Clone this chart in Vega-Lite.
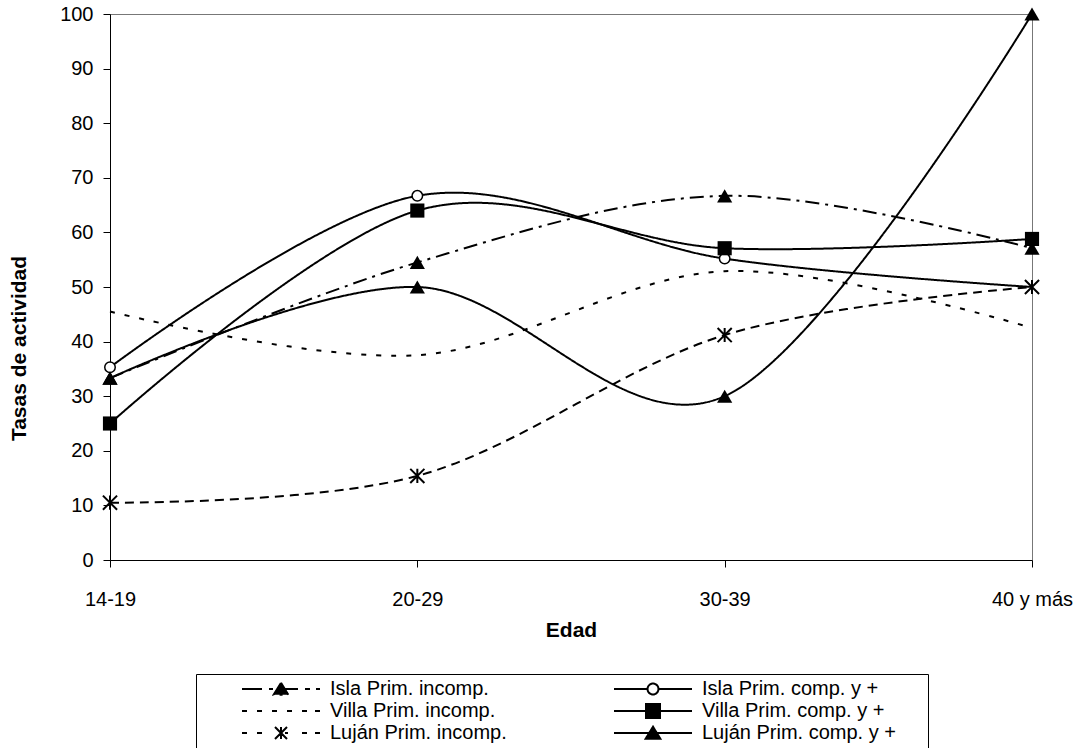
{
  "$schema": "https://vega.github.io/schema/vega-lite/v6.json",
  "width": 922,
  "height": 546,
  "autosize": {"type": "none"},
  "padding": {"left": 110, "top": 14, "right": 50, "bottom": 188},
  "background": "#ffffff",
  "config": {
    "font": "Liberation Sans",
    "view": {"stroke": "#777777", "strokeWidth": 1},
    "axis": {
      "domainColor": "#000000",
      "domainWidth": 1,
      "tickColor": "#000000",
      "tickWidth": 1,
      "tickSize": 7,
      "labelColor": "#000000",
      "labelFont": "Liberation Sans",
      "labelFontSize": 20,
      "titleColor": "#000000",
      "titleFont": "Liberation Sans",
      "titleFontSize": 21,
      "titleFontWeight": "bold",
      "grid": false
    },
    "legend": {
      "labelFont": "Liberation Sans",
      "labelFontSize": 20,
      "labelColor": "#000000"
    }
  },
  "data": {
    "values": [
      {"serie": "Isla Prim. incomp.", "edad": "14-19", "tasa": 33.3},
      {"serie": "Isla Prim. incomp.", "edad": "20-29", "tasa": 54.5},
      {"serie": "Isla Prim. incomp.", "edad": "30-39", "tasa": 66.7},
      {"serie": "Isla Prim. incomp.", "edad": "40 y más", "tasa": 57.1},
      {"serie": "Isla Prim. comp. y +", "edad": "14-19", "tasa": 35.3},
      {"serie": "Isla Prim. comp. y +", "edad": "20-29", "tasa": 66.7},
      {"serie": "Isla Prim. comp. y +", "edad": "30-39", "tasa": 55.2},
      {"serie": "Isla Prim. comp. y +", "edad": "40 y más", "tasa": 50.0},
      {"serie": "Villa Prim. incomp.", "edad": "14-19", "tasa": 45.5},
      {"serie": "Villa Prim. incomp.", "edad": "20-29", "tasa": 37.5},
      {"serie": "Villa Prim. incomp.", "edad": "30-39", "tasa": 52.9},
      {"serie": "Villa Prim. incomp.", "edad": "40 y más", "tasa": 42.5},
      {"serie": "Villa Prim. comp. y +", "edad": "14-19", "tasa": 25.0},
      {"serie": "Villa Prim. comp. y +", "edad": "20-29", "tasa": 64.0},
      {"serie": "Villa Prim. comp. y +", "edad": "30-39", "tasa": 57.1},
      {"serie": "Villa Prim. comp. y +", "edad": "40 y más", "tasa": 58.8},
      {"serie": "Luján Prim. incomp.", "edad": "14-19", "tasa": 10.5},
      {"serie": "Luján Prim. incomp.", "edad": "20-29", "tasa": 15.4},
      {"serie": "Luján Prim. incomp.", "edad": "30-39", "tasa": 41.2},
      {"serie": "Luján Prim. incomp.", "edad": "40 y más", "tasa": 50.0},
      {"serie": "Luján Prim. comp. y +", "edad": "14-19", "tasa": 33.3},
      {"serie": "Luján Prim. comp. y +", "edad": "20-29", "tasa": 50.0},
      {"serie": "Luján Prim. comp. y +", "edad": "30-39", "tasa": 30.0},
      {"serie": "Luján Prim. comp. y +", "edad": "40 y más", "tasa": 100.0}
    ]
  },
  "encoding": {
    "x": {
      "field": "edad",
      "type": "ordinal",
      "sort": ["14-19", "20-29", "30-39", "40 y más"],
      "scale": {"type": "point", "padding": 0},
      "axis": {
        "title": "Edad",
        "labelAngle": 0,
        "labelPadding": 22,
        "titleX": 461,
        "titleY": 70,
        "titleAlign": "center",
        "titleBaseline": "middle"
      }
    },
    "y": {
      "field": "tasa",
      "type": "quantitative",
      "scale": {"domain": [0, 100], "nice": false, "zero": true},
      "axis": {
        "title": "Tasas de actividad",
        "values": [0, 10, 20, 30, 40, 50, 60, 70, 80, 90, 100],
        "labelPadding": 10,
        "titleAngle": 270,
        "titleX": -91,
        "titleY": 334,
        "titleAlign": "center",
        "titleBaseline": "middle"
      }
    }
  },
  "layer": [
    {
      "mark": {"type": "line", "interpolate": "cardinal", "color": "#000000", "strokeWidth": 2, "strokeCap": "butt", "clip": false},
      "encoding": {
        "strokeDash": {
          "field": "serie",
          "type": "nominal",
          "scale": {
            "domain": ["Isla Prim. incomp.", "Villa Prim. incomp.", "Luján Prim. incomp.", "Isla Prim. comp. y +", "Villa Prim. comp. y +", "Luján Prim. comp. y +"],
            "range": [[14, 6, 3, 6], [5, 10], [9, 6], [1, 0], [1, 0], [1, 0]]
          },
          "legend": {
            "title": null,
            "orient": "none",
            "legendX": 86,
            "legendY": 660,
            "direction": "vertical",
            "columns": 2,
            "columnPadding": 65,
            "rowPadding": 0,
            "padding": 4,
            "strokeColor": "#000000",
            "fillColor": "#ffffff",
            "clipHeight": 22,
            "symbolSize": 6084,
            "symbolStrokeWidth": 2,
            "symbolStrokeColor": "#000000",
            "symbolOffset": 41,
            "labelOffset": 9,
            "labelLimit": 400,
            "labelExpr": "indexof(datum.label, 'comp. y') >= 0 ? datum.label + '\u00a0\u00a0\u00a0\u00a0\u00a0\u200b' : datum.label",
            "symbolFillColor": {"expr": "datum.value === 'Isla Prim. comp. y +' ? '#ffffff' : '#000000'"},
            "symbolType": {"expr": "datum.value === 'Isla Prim. incomp.' ? 'M-1,0H-0.641M-0.641,0H-0.487M-0.308,0H-0.205M-0.103,0H0.2M0.2,0H0.436M0.615,0H0.744M0.897,0H1M0,-0.16L0.19,0.15L-0.19,0.15Z' : datum.value === 'Villa Prim. incomp.' ? 'M-1,0H-0.872M-0.615,0H-0.487M-0.231,0H-0.103M0.154,0H0.282M0.538,0H0.667M0.872,0H1' : datum.value === 'Luján Prim. incomp.' ? 'M-1,0H-0.872M-0.615,0H-0.487M0.103,0H0.18M0.538,0H0.667M0.872,0H1M0,0L-0.154,-0.154M0,0L0.154,0.154M0,0L-0.154,0.154M0,0L0.154,-0.154M0,0V-0.154M0,0V0.154' : datum.value === 'Isla Prim. comp. y +' ? 'M-1,0H-0.14M0.14,0H1M0.14,0A0.14,0.14 0 1,1 -0.14,0A0.14,0.14 0 1,1 0.14,0Z' : datum.value === 'Villa Prim. comp. y +' ? 'M-1,0H1M-0.18,-0.18H0.18V0.18H-0.18Z' : 'M-1,0H1M0,-0.16L0.19,0.15L-0.19,0.15Z'"}
          }
        }
      }
    },
    {
      "transform": [{"filter": "datum.serie === 'Isla Prim. comp. y +' && datum.edad !== '40 y más'"}],
      "mark": {"type": "point", "shape": "circle", "size": 110, "filled": true, "fill": "#ffffff", "stroke": "#000000", "strokeWidth": 1.5, "opacity": 1, "clip": false}
    },
    {
      "transform": [{"filter": "datum.serie === 'Villa Prim. comp. y +'"}],
      "mark": {"type": "point", "shape": "square", "size": 200, "filled": true, "fill": "#000000", "opacity": 1, "clip": false}
    },
    {
      "transform": [{"filter": "datum.serie === 'Luján Prim. incomp.'"}],
      "mark": {"type": "point", "shape": "M-1,-1L1,1M-1,1L1,-1M0,-1L0,1", "size": 200, "filled": false, "stroke": "#000000", "strokeWidth": 2, "opacity": 1, "clip": false}
    },
    {
      "transform": [{"filter": "datum.serie === 'Isla Prim. incomp.' || datum.serie === 'Luján Prim. comp. y +'"}],
      "mark": {"type": "point", "shape": "triangle-up", "size": 230, "filled": true, "fill": "#000000", "opacity": 1, "clip": false}
    }
  ]
}
